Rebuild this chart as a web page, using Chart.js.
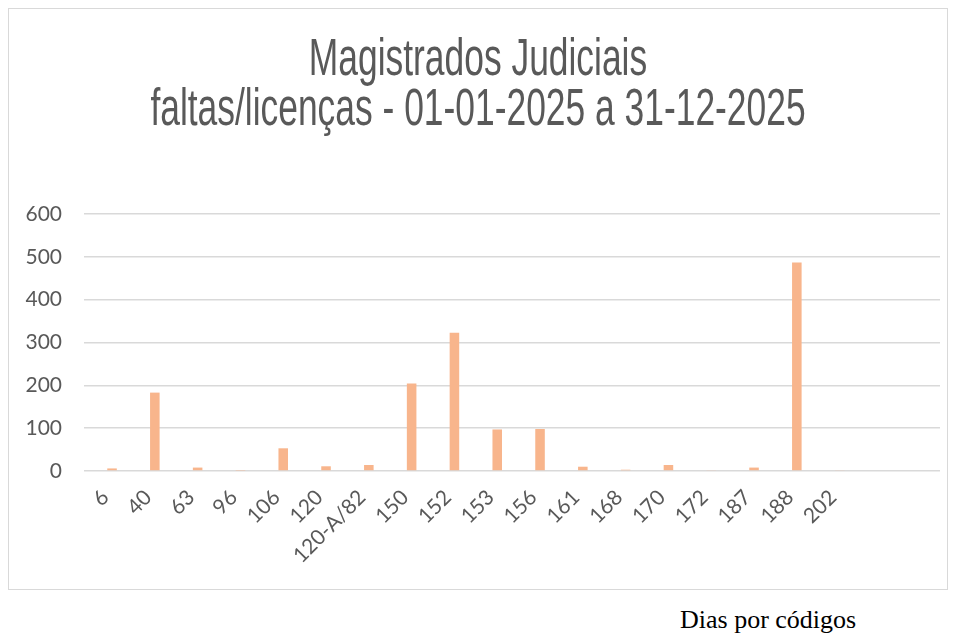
<!DOCTYPE html>
<html>
<head>
<meta charset="utf-8">
<script src="https://cdn.jsdelivr.net/npm/chart.js@4"></script>
<style>
  body { margin: 0; background: #fff; }
  #box { position: absolute; left: 8px; top: 8px; width: 940px; height: 582px; border: 1px solid #d9d9d9; box-sizing: border-box; }
  #note { position: absolute; left: 680px; top: 607px; font-family: "Liberation Serif", serif; font-size: 26px; color: #000; line-height: 1; }
</style>
</head>
<body>
<div id="box"><canvas id="chart_div"></canvas></div>
<div id="note">Dias por códigos</div>
<script>
  // categories (last two slots are empty in the original sheet)
  const codes = ['6', '40', '63', '96', '106', '120', '120-A/82', '150', '152', '153', '156', '161', '168', '170', '172', '187', '188', '202', '', ''];
  const dias = [6, 183, 8, 1, 53, 11, 14, 204, 323, 97, 98, 10, 3, 14, 2, 8, 487, 2, null, null];
  const emptySeries = codes.map(() => null);
  const yTicks = [0, 100, 200, 300, 400, 500, 600];
  const titleLines = ['Magistrados Judiciais', 'faltas/licenças - 01-01-2025 a 31-12-2025'];

  // narrow title, drawn squeezed to look like the condensed original
  const narrowTitle = {
    id: 'narrowTitle',
    afterDraw(chart) {
      const c = chart.ctx;
      c.save();
      c.fillStyle = '#595959';
      c.font = '51px "Liberation Sans", Arial, sans-serif';
      c.textAlign = 'center';
      c.textBaseline = 'alphabetic';
      const cx = chart.width / 2;
      titleLines.forEach((t, i) => {
        c.save();
        c.translate(cx, 66 + i * 50);
        c.scale(0.694, 1);
        c.fillText(t, 0, 0);
        c.restore();
      });
      c.restore();
    }
  };

  const ctx = document.getElementById('chart_div');
  new Chart(ctx, {
    type: 'bar',
    data: {
      labels: codes,
      datasets: [{
        label: '',
        data: emptySeries,
        backgroundColor: '#5b9bd5'
      }, {
        label: 'Dias',
        data: dias,
        backgroundColor: '#f8b58c',
        categoryPercentage: 0.62,
        barPercentage: 0.72
      }]
    },
    options: {
      responsive: true,
      maintainAspectRatio: false,
      animation: false,
      layout: { padding: { top: 205, right: 7, left: 0, bottom: 0 } },
      datasets: { bar: { categoryPercentage: 0.62, barPercentage: 0.72 } },
      plugins: {
        legend: { display: false },
        title: { display: false },
        tooltip: { enabled: false }
      },
      scales: {
        x: {
          grid: { display: false },
          border: { display: false },
          ticks: {
            color: '#595959',
            font: { family: 'Lato', size: 21 },
            minRotation: 45,
            maxRotation: 45,
            autoSkip: false,
            padding: 6
          },
          afterFit: (s) => { s.height = 118; }
        },
        y: {
          min: 0,
          max: 600,
          afterBuildTicks: (s) => { s.ticks = yTicks.map(v => ({ value: v })); },
          grid: { color: '#d9d9d9', lineWidth: 1.5, drawTicks: false },
          border: { display: false },
          ticks: {
            color: '#595959',
            font: { family: 'Lato', size: 21 },
            padding: 22
          },
          afterFit: (s) => { s.width = 75; }
        }
      }
    },
    plugins: [narrowTitle]
  });
</script>
</body>
</html>
